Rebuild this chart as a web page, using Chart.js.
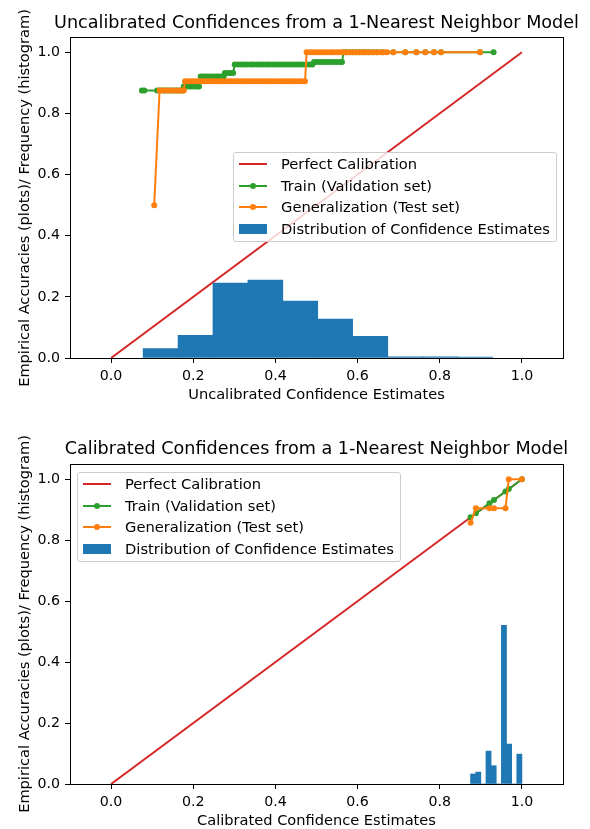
<!DOCTYPE html>
<html>
<head>
<meta charset="utf-8">
<script src="https://cdn.jsdelivr.net/npm/chart.js@4.4.0/dist/chart.umd.min.js"></script>
<style>
  body { margin: 0; background: #fff; font-family: 'DejaVu Sans', sans-serif; color: #000; }
  .panel { position: absolute; left: 0; width: 590px; }
  .title { position: absolute; left: 16.5px; width: 600px; height: 20px; line-height: 20px;
           text-align: center; font-size: 17.6px; white-space: nowrap; }
  .ytitle { position: absolute; left: -176px; width: 400px; height: 18px; line-height: 18px;
            text-align: center; font-size: 14.6px; white-space: nowrap; transform: rotate(-90deg); }
  .legend { position: absolute; width: 324px; height: 90px; box-sizing: border-box;
            border: 1px solid #cccccc; border-radius: 3px; background: rgba(255,255,255,0.8);
            font-size: 14.7px; }
  .row { position: absolute; left: 0; width: 100%; height: 20px; line-height: 20px; }
  .row .label { position: absolute; left: 47px; white-space: nowrap; }
  .handle { position: absolute; left: 5px; width: 28px; top: 9px; height: 2px; }
  .dot { position: absolute; left: 16px; top: 7px; width: 6px; height: 6px; border-radius: 50%; }
  .patch { position: absolute; left: 5px; width: 28px; top: 5px; height: 10px; }
</style>
</head>
<body>
<div class="panel" style="top:0;height:414px">
  <canvas id="uncal" width="590" height="414"></canvas>
  <div class="title" id="title1" style="top:12px"></div>
  <div class="ytitle" style="top:188.5px"></div>
  <div class="legend" id="legend1" style="left:233px;top:152px"></div>
</div>
<div class="panel" style="top:414px;height:415px">
  <canvas id="cal" width="590" height="415"></canvas>
  <div class="title" id="title2" style="top:24px"></div>
  <div class="ytitle" style="top:201px"></div>
  <div class="legend" id="legend2" style="left:77px;top:58px"></div>
</div>
<script>
const RED = '#d62728', GREEN = '#2ca02c', ORANGE = '#ff7f0e', BLUE = '#1f77b4';

const xTicks = [0, 0.2, 0.4, 0.6, 0.8, 1.0];
const yTicks = [0, 0.2, 0.4, 0.6, 0.8, 1.0];
const legendLabels = ['Perfect Calibration', 'Train (Validation set)',
                      'Generalization (Test set)', 'Distribution of Confidence Estimates'];
const yTitle = 'Empirical Accuracies (plots)/ Frequency (histogram)';

const perfectLine = [[0, 0], [1, 1]];

// uncalibrated model: [confidence, accuracy]
const uncalTrain = [
  [0.075, 0.875], [0.081, 0.875], [0.112, 0.875], [0.118, 0.875], [0.125, 0.875], [0.131, 0.875],
  [0.137, 0.875], [0.144, 0.875], [0.150, 0.875], [0.157, 0.875], [0.163, 0.875], [0.169, 0.875],
  [0.174, 0.875],
  [0.177, 0.888], [0.183, 0.888], [0.190, 0.888], [0.196, 0.888], [0.203, 0.888], [0.209, 0.888],
  [0.214, 0.888],
  [0.218, 0.921], [0.224, 0.921], [0.231, 0.921], [0.237, 0.921], [0.244, 0.921], [0.250, 0.921],
  [0.257, 0.921], [0.263, 0.921], [0.269, 0.921], [0.274, 0.921],
  [0.277, 0.932], [0.283, 0.932], [0.290, 0.932], [0.297, 0.932],
  [0.301, 0.960], [0.309, 0.960], [0.316, 0.960], [0.324, 0.960], [0.331, 0.960], [0.339, 0.960],
  [0.346, 0.960], [0.354, 0.960], [0.362, 0.960], [0.369, 0.960], [0.377, 0.960], [0.384, 0.960],
  [0.392, 0.960], [0.399, 0.960], [0.407, 0.960], [0.414, 0.960], [0.422, 0.960], [0.430, 0.960],
  [0.437, 0.960], [0.445, 0.960], [0.452, 0.960], [0.460, 0.960], [0.467, 0.960], [0.475, 0.960],
  [0.483, 0.960], [0.490, 0.960],
  [0.494, 0.968], [0.501, 0.968], [0.509, 0.968], [0.517, 0.968], [0.524, 0.968], [0.532, 0.968],
  [0.540, 0.968], [0.548, 0.968], [0.556, 0.968], [0.562, 0.968],
  [0.566, 1.0], [0.573, 1.0], [0.581, 1.0], [0.589, 1.0], [0.597, 1.0], [0.605, 1.0], [0.613, 1.0],
  [0.621, 1.0], [0.629, 1.0], [0.638, 1.0], [0.648, 1.0], [0.660, 1.0], [0.687, 1.0], [0.716, 1.0],
  [0.743, 1.0], [0.765, 1.0], [0.786, 1.0], [0.803, 1.0], [0.898, 1.0], [0.931, 1.0]
];
const uncalTest = [
  [0.105, 0.5],
  [0.118, 0.875], [0.124, 0.875], [0.131, 0.875], [0.138, 0.875], [0.145, 0.875], [0.152, 0.875],
  [0.159, 0.875], [0.166, 0.875], [0.172, 0.875], [0.177, 0.875],
  [0.180, 0.905], [0.187, 0.905], [0.194, 0.905], [0.201, 0.905], [0.208, 0.905], [0.215, 0.905],
  [0.222, 0.905], [0.229, 0.905], [0.236, 0.905], [0.243, 0.905], [0.251, 0.905], [0.258, 0.905],
  [0.265, 0.905], [0.272, 0.905], [0.280, 0.905], [0.287, 0.905], [0.294, 0.905], [0.302, 0.905],
  [0.309, 0.905], [0.316, 0.905], [0.324, 0.905], [0.331, 0.905], [0.338, 0.905], [0.346, 0.905],
  [0.353, 0.905], [0.360, 0.905], [0.368, 0.905], [0.375, 0.905], [0.383, 0.905], [0.390, 0.905],
  [0.397, 0.905], [0.405, 0.905], [0.412, 0.905], [0.420, 0.905], [0.427, 0.905], [0.434, 0.905],
  [0.442, 0.905], [0.449, 0.905], [0.457, 0.905], [0.464, 0.905], [0.472, 0.905],
  [0.476, 1.0], [0.483, 1.0], [0.491, 1.0], [0.498, 1.0], [0.506, 1.0], [0.513, 1.0], [0.521, 1.0],
  [0.528, 1.0], [0.536, 1.0], [0.543, 1.0], [0.551, 1.0], [0.558, 1.0], [0.566, 1.0], [0.573, 1.0],
  [0.581, 1.0], [0.589, 1.0], [0.596, 1.0], [0.604, 1.0], [0.612, 1.0], [0.620, 1.0], [0.628, 1.0],
  [0.637, 1.0], [0.646, 1.0], [0.655, 1.0], [0.664, 1.0], [0.672, 1.0], [0.687, 1.0], [0.716, 1.0],
  [0.743, 1.0], [0.765, 1.0], [0.786, 1.0], [0.803, 1.0], [0.898, 1.0]
];
const uncalBinEdges = [0.078, 0.163, 0.248, 0.333, 0.418, 0.503, 0.588, 0.674, 0.759, 0.844, 0.929];
const uncalFreq = [0.031, 0.074, 0.245, 0.255, 0.186, 0.127, 0.071, 0.004, 0.004, 0.003];

// calibrated model
const calTrain = [[0.875, 0.875], [0.888, 0.888], [0.921, 0.921], [0.932, 0.932],
                  [0.960, 0.960], [0.968, 0.968], [1.0, 1.0]];
const calTest = [[0.875, 0.857], [0.888, 0.905], [0.921, 0.905], [0.932, 0.905],
                 [0.960, 0.905], [0.968, 1.0], [1.0, 1.0]];
const calBinEdges = [0.875, 0.8875, 0.9, 0.9125, 0.925, 0.9375, 0.95, 0.9625, 0.975, 0.9875, 1.0];
const calFreq = [0.033, 0.039, 0, 0.108, 0.060, 0, 0.521, 0.131, 0, 0.098];

Chart.defaults.font.family = "'DejaVu Sans', sans-serif";
Chart.defaults.font.size = 14.6;
Chart.defaults.color = '#000';

// matplotlib-style box round the axes
const frame = {
  id: 'frame',
  afterDraw(chart) {
    const { ctx, chartArea: a } = chart;
    ctx.save();
    ctx.strokeStyle = '#000';
    ctx.lineWidth = 1;
    ctx.strokeRect(Math.round(a.left) + 0.5, Math.round(a.top) + 0.5,
                   Math.round(a.right - a.left), Math.round(a.bottom - a.top));
    ctx.restore();
  }
};

const pts = arr => arr.map(p => ({ x: p[0], y: p[1] }));
const bars = (edges, freq) => freq.map((f, i) => ({ x: (edges[i] + edges[i + 1]) / 2, y: f }));

function lineSet(label, data, color, order) {
  return {
    label, data: pts(data), order,
    borderColor: color, backgroundColor: color, borderWidth: 2,
    pointRadius: 3, pointBackgroundColor: color, pointBorderWidth: 0, pointHoverRadius: 3
  };
}

function makeChart(id, o) {
  return new Chart(document.getElementById(id), {
    type: 'line',
    data: {
      datasets: [
        { type: 'bar', label: legendLabels[3], data: bars(o.edges, o.freq), order: 0,
          backgroundColor: BLUE, borderWidth: 0, barPercentage: 1, categoryPercentage: 1 },
        lineSet(legendLabels[2], o.test, ORANGE, 1),
        lineSet(legendLabels[1], o.train, GREEN, 2),
        { label: legendLabels[0], data: pts(perfectLine), order: 3,
          borderColor: RED, borderWidth: 2, pointRadius: 0 }
      ]
    },
    options: {
      responsive: false,
      animation: false,
      layout: { padding: { left: 0, right: 27, top: o.plotTop, bottom: 0 } },
      plugins: {
        legend: { display: false },
        tooltip: { enabled: false }
      },
      scales: {
        x: {
          type: 'linear', min: -0.1, max: 1.1, offset: false,
          afterBuildTicks: s => { s.ticks = xTicks.map(v => ({ value: v })); },
          afterFit: s => { s.height = o.xAxisHeight; },
          ticks: { callback: v => v.toFixed(1), padding: 5, maxRotation: 0, autoSkip: false,
                   font: { size: 14.2 } },
          grid: { offset: false, drawOnChartArea: false, drawTicks: true, tickLength: 5, color: '#000' },
          border: { display: true, color: '#000' },
          title: { display: true, text: o.xTitle, padding: { top: 0, bottom: o.xTitlePad } }
        },
        y: {
          min: 0, max: 1.05,
          afterBuildTicks: s => { s.ticks = yTicks.map(v => ({ value: v })); },
          afterFit: s => { s.width = 70; },
          ticks: { callback: v => v.toFixed(1), padding: 5, font: { size: 14.2 } },
          grid: { offset: false, drawOnChartArea: false, drawTicks: true, tickLength: 5, color: '#000' },
          border: { display: true, color: '#000' }
        }
      }
    },
    plugins: [frame]
  });
}

function makeLegend(id) {
  const box = document.getElementById(id);
  const colors = [RED, GREEN, ORANGE, BLUE];
  legendLabels.forEach((text, i) => {
    const row = document.createElement('div');
    row.className = 'row';
    row.style.top = (1 + i * 21.6) + 'px';
    if (i === 3) {
      row.innerHTML = '<div class="patch" style="background:' + colors[i] + '"></div>';
    } else {
      row.innerHTML = '<div class="handle" style="background:' + colors[i] + '"></div>' +
        (i > 0 ? '<div class="dot" style="background:' + colors[i] + '"></div>' : '');
    }
    const label = document.createElement('span');
    label.className = 'label';
    label.textContent = text;
    row.appendChild(label);
    box.appendChild(row);
  });
}

makeChart('uncal', {
  xTitle: 'Uncalibrated Confidence Estimates',
  train: uncalTrain, test: uncalTest, edges: uncalBinEdges, freq: uncalFreq,
  plotTop: 37, xAxisHeight: 56, xTitlePad: 10
});
makeChart('cal', {
  xTitle: 'Calibrated Confidence Estimates',
  train: calTrain, test: calTest, edges: calBinEdges, freq: calFreq,
  plotTop: 50, xAxisHeight: 45, xTitlePad: -1
});
document.getElementById('title1').textContent = 'Uncalibrated Confidences from a 1-Nearest Neighbor Model';
document.getElementById('title2').textContent = 'Calibrated Confidences from a 1-Nearest Neighbor Model';
document.querySelectorAll('.ytitle').forEach(el => { el.textContent = yTitle; });
makeLegend('legend1');
makeLegend('legend2');
</script>
</body>
</html>
